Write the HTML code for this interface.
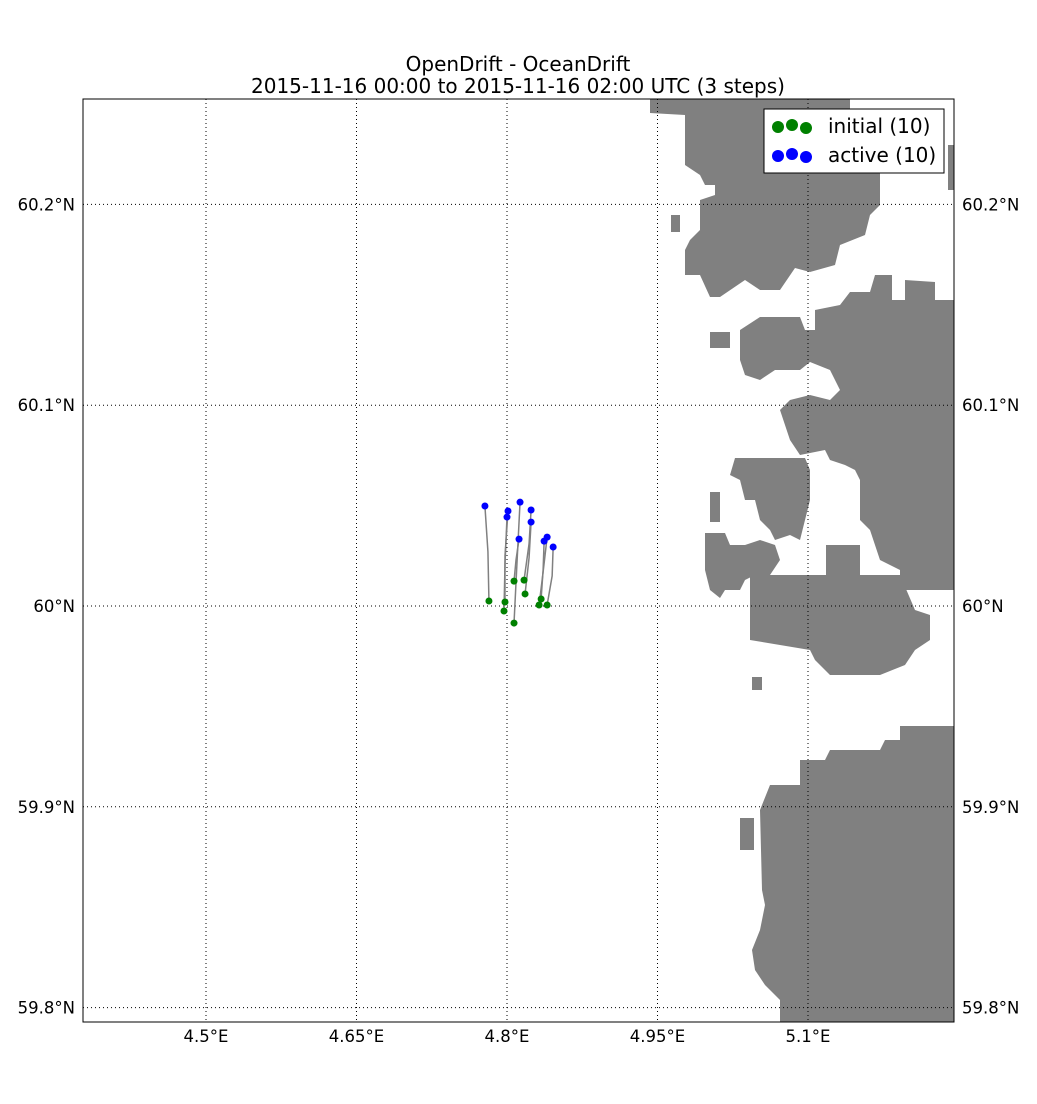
<!DOCTYPE html>
<html><head><meta charset="utf-8"><style>
body{margin:0;background:#fff;width:1037px;height:1100px;overflow:hidden;font-family:"DejaVu Sans","Liberation Sans",sans-serif;}
svg text{font-family:"DejaVu Sans","Liberation Sans",sans-serif;}
</style></head><body>
<svg id="chart" width="1037" height="1100" viewBox="0 0 1037 1100" xmlns="http://www.w3.org/2000/svg">
<rect width="1037" height="1100" fill="#fff"/>
<text x="518" y="71" font-size="20" text-anchor="middle">OpenDrift - OceanDrift</text>
<text x="518" y="93" font-size="20" text-anchor="middle">2015-11-16 00:00 to 2015-11-16 02:00 UTC (3 steps)</text>
<defs><clipPath id="pc"><rect x="83" y="99" width="871" height="923"/></clipPath></defs>
<g id="land" clip-path="url(#pc)" fill="#808080">
<polygon points="650,99 850,99 850,110 880,110 880,205 870,215 865,235 840,245 835,265 810,272 795,268 780,290 760,290 745,280 720,297 710,297 700,275 685,275 685,250 690,240 700,230 700,200 715,195 715,185 705,185 700,175 685,165 685,115 650,113"/>
<polygon points="948,145 954,145 954,190 948,190"/>
<rect x="671" y="215" width="9" height="17"/>
<rect x="710" y="332" width="20" height="16"/>
<polygon points="740,330 760,317 800,317 805,330 815,330 815,310 840,305 850,292 870,292 875,275 892,275 892,300 905,300 905,280 935,282 935,300 954,300 954,590 900,590 900,570 880,560 870,530 860,520 860,480 855,470 845,465 830,460 825,450 800,455 790,440 780,410 790,400 810,395 830,400 840,390 830,370 810,362 800,370 775,370 760,380 745,375 740,360"/>
<polygon points="735,458 805,458 810,470 810,500 800,540 790,535 775,540 770,530 760,520 755,500 745,500 740,480 730,475"/>
<rect x="710" y="492" width="10" height="30"/>
<polygon points="705,533 725,533 730,545 745,545 760,540 775,545 780,560 770,575 755,575 745,580 740,590 725,590 720,598 710,590 705,570"/>
<polygon points="826,545 860,545 860,575 826,575"/>
<polygon points="750,575 900,575 915,610 930,615 930,640 915,650 905,665 880,675 830,675 815,660 810,650 750,640"/>
<rect x="752" y="677" width="10" height="13"/>
<polygon points="900,726 954,726 954,1022 780,1022 780,1000 765,985 755,970 752,950 760,930 765,905 762,890 760,810 770,785 800,785 800,760 825,760 830,750 880,750 885,740 900,740"/>
<rect x="740" y="818" width="14" height="32"/>
</g>
<g id="grid" stroke="#000" stroke-width="1" stroke-dasharray="1,3"></g>
<g id="ticks"></g>
<g id="tracks" clip-path="url(#pc)"></g>
<rect x="83" y="99" width="871" height="923" fill="none" stroke="#000" stroke-width="1"/>
<g>
<rect x="764" y="109" width="180" height="64" fill="#fff" stroke="#000" stroke-width="1"/>
<g>
<circle cx="778" cy="127" r="6" fill="#008000"/><circle cx="792" cy="125" r="6" fill="#008000"/><circle cx="806" cy="128" r="6" fill="#008000"/>
<text x="828" y="133" font-size="20">initial (10)</text></g>
<g>
<circle cx="778" cy="156" r="6" fill="#0000ff"/><circle cx="792" cy="154" r="6" fill="#0000ff"/><circle cx="806" cy="157" r="6" fill="#0000ff"/>
<text x="828" y="162" font-size="20">active (10)</text></g>
</g>
</svg>
<script>
const lonStart=[4.782,4.798,4.797,4.807,4.807,4.817,4.818,4.834,4.832,4.840];
const latStart=[60.0025,60.0020,59.9975,59.9915,60.0124,60.0129,60.0060,60.0035,60.0005,60.0005];
const lonMid=[4.781,4.798,4.798,4.810,4.809,4.822,4.822,4.836,4.836,4.845];
const latMid=[60.0270,60.0250,60.0210,60.0220,60.0230,60.0310,60.0240,60.0180,60.0170,60.0150];
const lonEnd=[4.778,4.801,4.800,4.813,4.812,4.824,4.824,4.837,4.840,4.846];
const latEnd=[60.0498,60.0473,60.0443,60.0517,60.0333,60.0478,60.0418,60.0323,60.0343,60.0294];
const lonTicks=[4.5,4.65,4.8,4.95,5.1];
const lonLabels=["4.5°E","4.65°E","4.8°E","4.95°E","5.1°E"];
const latTicks=[60.2,60.1,60.0,59.9,59.8];
const latLabels=["60.2°N","60.1°N","60°N","59.9°N","59.8°N"];
function xs(lon){return 507+(lon-4.8)*(150.5/0.15);}
function ys(lat){return 606-(lat-60)*2008;}
const NS='http://www.w3.org/2000/svg';
function mk(t,a,p){const e=document.createElementNS(NS,t);for(const k in a)e.setAttribute(k,a[k]);p.appendChild(e);return e;}
const grid=document.getElementById('grid'),ticks=document.getElementById('ticks'),tr=document.getElementById('tracks');
lonTicks.forEach((v,i)=>{const x=xs(v);
 const g=mk('line',{x1:x,x2:x,y1:99,y2:1022},grid);
 
 
 const t=mk('text',{x:x,y:1042,'font-size':16.5,'text-anchor':'middle'},ticks);t.textContent=lonLabels[i];
 
 
});
latTicks.forEach((v,i)=>{const y=ys(v);
 const g=mk('line',{x1:83,x2:954,y1:y,y2:y},grid);
 
 
 const t=mk('text',{x:75,y:y+6,'font-size':16.5,'text-anchor':'end'},ticks);t.textContent=latLabels[i];
 
 
 const t2=mk('text',{x:962,y:y+6,'font-size':16.5,'text-anchor':'start'},ticks);t2.textContent=latLabels[i];
 
 
});
for(let i=0;i<lonStart.length;i++){
 const p=mk('polyline',{points:`${xs(lonStart[i])},${ys(latStart[i])} ${xs(lonMid[i])},${ys(latMid[i])} ${xs(lonEnd[i])},${ys(latEnd[i])}`,fill:'none',stroke:'#808080','stroke-width':1.5},tr);
 
 
}
for(let i=0;i<lonStart.length;i++){
 const c=mk('circle',{cx:xs(lonStart[i]),cy:ys(latStart[i]),r:3.5,fill:'#008000'},tr);
 
 
 const d=mk('circle',{cx:xs(lonEnd[i]),cy:ys(latEnd[i]),r:3.5,fill:'#0000ff'},tr);
 
 
}
</script>
</body></html>
